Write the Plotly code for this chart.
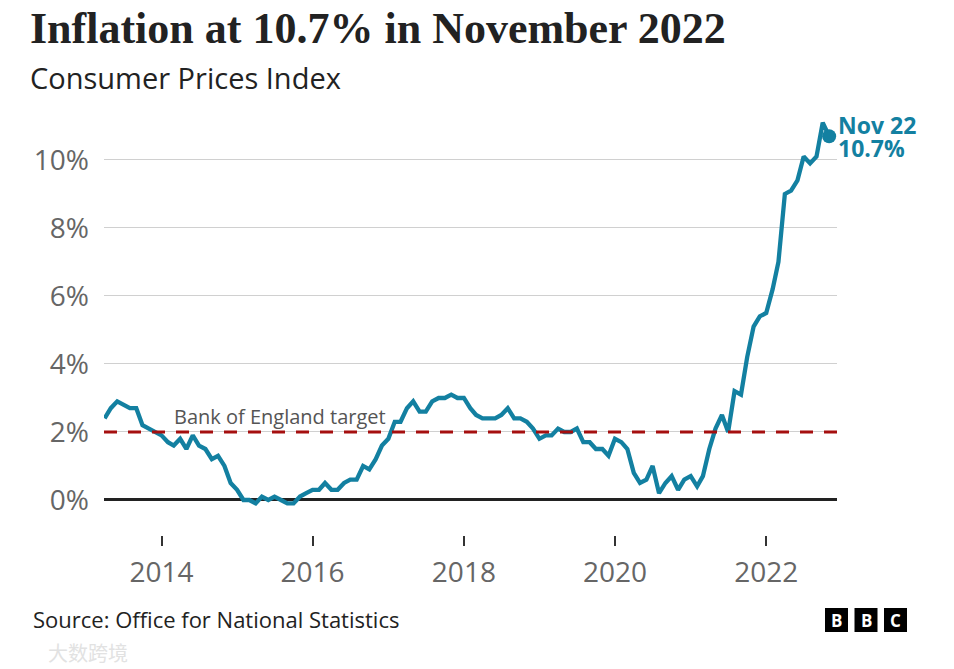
import plotly.graph_objects as go
import pandas as pd

# UK CPI annual rate (%), April 2013 - November 2022
start_month = "2013-04-01"
cpi = [
    2.4, 2.7, 2.9, 2.8, 2.7, 2.7, 2.2, 2.1, 2.0,                      # 2013 Apr-Dec
    1.9, 1.7, 1.6, 1.8, 1.5, 1.9, 1.6, 1.5, 1.2, 1.3, 1.0, 0.5,       # 2014
    0.3, 0.0, 0.0, -0.1, 0.1, 0.0, 0.1, 0.0, -0.1, -0.1, 0.1, 0.2,    # 2015
    0.3, 0.3, 0.5, 0.3, 0.3, 0.5, 0.6, 0.6, 1.0, 0.9, 1.2, 1.6,       # 2016
    1.8, 2.3, 2.3, 2.7, 2.9, 2.6, 2.6, 2.9, 3.0, 3.0, 3.1, 3.0,       # 2017
    3.0, 2.7, 2.5, 2.4, 2.4, 2.4, 2.5, 2.7, 2.4, 2.4, 2.3, 2.1,       # 2018
    1.8, 1.9, 1.9, 2.1, 2.0, 2.0, 2.1, 1.7, 1.7, 1.5, 1.5, 1.3,       # 2019
    1.8, 1.7, 1.5, 0.8, 0.5, 0.6, 1.0, 0.2, 0.5, 0.7, 0.3, 0.6,       # 2020
    0.7, 0.4, 0.7, 1.5, 2.1, 2.5, 2.0, 3.2, 3.1, 4.2, 5.1, 5.4,       # 2021
    5.5, 6.2, 7.0, 9.0, 9.1, 9.4, 10.1, 9.9, 10.1, 11.1, 10.7,        # 2022 Jan-Nov
]
months = pd.date_range(start_month, periods=len(cpi), freq="MS")

target_rate = 2.0
latest_label = "Nov 22"
latest_value = "10.7%"

x_tick_vals = ["2014-01-01", "2016-01-01", "2018-01-01", "2020-01-01", "2022-01-01"]
x_tick_text = ["2014", "2016", "2018", "2020", "2022"]
y_tick_vals = [0, 2, 4, 6, 8, 10]
y_tick_text = ["0%", "2%", "4%", "6%", "8%", "10%"]

title_text = "Inflation at 10.7% in November 2022"
subtitle_text = "Consumer Prices Index"
source_text = "Source: Office for National Statistics"
target_text = "Bank of England target"

TEAL = "#1380A1"
SANS = "Open Sans"

OFF = 8  # page offset of the figure inside the browser window
W, H = 954, 669
ML, MR, MT, MB = 104 - OFF, 954 - 837 + OFF, 110 - OFF, 669 - 535 + OFF
PW = W - ML - MR
PH = H - MT - MB


def px_x(px):
    return (px - OFF - ML) / PW


def px_y(py):
    return (H - MB - (py - OFF)) / PH


fig = go.Figure()

# Bank of England target line (dashed)
fig.add_shape(type="line", xref="paper", yref="y", x0=0, x1=1, y0=target_rate, y1=target_rate,
              line=dict(color="#A50F0F", width=3, dash="13px,11px"), layer="above")

fig.add_trace(go.Scatter(
    x=months, y=cpi, mode="lines",
    line=dict(color=TEAL, width=4.3, shape="linear"),
    hoverinfo="skip", showlegend=False,
))

fig.add_trace(go.Scatter(
    x=[months[-1]], y=[cpi[-1]], mode="markers",
    marker=dict(color=TEAL, size=14),
    hoverinfo="skip", showlegend=False, cliponaxis=False,
))

annotations = [
    dict(text=title_text, xref="paper", yref="paper", x=px_x(28), y=px_y(29),
         xanchor="left", yanchor="middle", showarrow=False,
         font=dict(family="Liberation Serif", size=44, color="#222222", weight="bold")),
    dict(text=subtitle_text, xref="paper", yref="paper", x=px_x(28), y=px_y(77),
         xanchor="left", yanchor="middle", showarrow=False,
         font=dict(family=SANS, size=29, color="#222222")),
    dict(text=source_text, xref="paper", yref="paper", x=px_x(31), y=px_y(619),
         xanchor="left", yanchor="middle", showarrow=False,
         font=dict(family=SANS, size=22, color="#222222")),
    dict(text=target_text, xref="paper", yref="y", x=px_x(172), y=target_rate,
         xanchor="left", yanchor="bottom", yshift=0, showarrow=False,
         font=dict(family=SANS, size=20, color="#555555")),
    dict(text=latest_label, xref="x", yref="y", x=months[-1], y=cpi[-1],
         xanchor="left", yanchor="middle", xshift=7, yshift=11, showarrow=False,
         font=dict(family=SANS, size=23, color=TEAL, weight="bold")),
    dict(text=latest_value, xref="x", yref="y", x=months[-1], y=cpi[-1],
         xanchor="left", yanchor="middle", xshift=7, yshift=-12, showarrow=False,
         font=dict(family=SANS, size=23, color=TEAL, weight="bold")),
    dict(text="大数跨境", xref="paper", yref="paper", x=px_x(46), y=px_y(652),
         xanchor="left", yanchor="middle", showarrow=False,
         font=dict(family="Noto Sans CJK SC", size=20, color="#e2e2e2")),
]

shapes = [
    dict(type="line", xref="paper", yref="paper", x0=px_x(22), x1=px_x(920),
         y0=px_y(601.5), y1=px_y(601.5), line=dict(color="#333333", width=1.3)),
]

# BBC blocks
for i, letter in enumerate(["B", "B", "C"]):
    x0 = 825 + i * 29.5
    shapes.append(dict(type="rect", xref="paper", yref="paper",
                       x0=px_x(x0), x1=px_x(x0 + 23), y0=px_y(632), y1=px_y(608),
                       fillcolor="#000000", line=dict(width=0)))
    annotations.append(dict(text=letter, xref="paper", yref="paper",
                            x=px_x(x0 + 11.5), y=px_y(620.5), xanchor="center", yanchor="middle",
                            showarrow=False,
                            font=dict(family=SANS, size=17, color="#ffffff", weight="bold")))

fig.update_layout(
    width=W, height=H,
    margin=dict(l=ML, r=MR, t=MT, b=MB, pad=0),
    paper_bgcolor="white", plot_bgcolor="white",
    annotations=annotations, shapes=shapes,
    showlegend=False,
)

fig.update_xaxes(
    type="date",
    range=["2013-03-29", "2022-12-09"],
    tickvals=x_tick_vals, ticktext=x_tick_text,
    ticks="outside", ticklen=10, tickwidth=1.5, tickcolor="#333333",
    showgrid=False, showline=False, zeroline=False,
    tickfont=dict(family=SANS, size=28, color="#666666"),
    ticklabelstandoff=2,
    fixedrange=True,
)

fig.update_yaxes(
    range=[-1.03, 11.47],
    tickvals=y_tick_vals, ticktext=y_tick_text,
    showgrid=True, gridcolor="#d0d0d0", gridwidth=1,
    zeroline=True, zerolinecolor="#222222", zerolinewidth=2.5,
    showline=False, ticks="",
    tickfont=dict(family=SANS, size=28, color="#666666"),
    ticklabelstandoff=14,
    fixedrange=True,
)

fig.write_html("out.html")
